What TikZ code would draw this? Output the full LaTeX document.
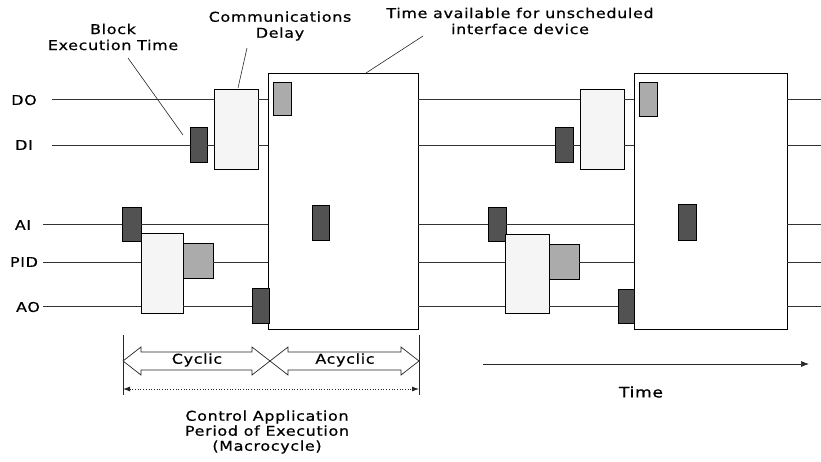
\documentclass[tikz,border=0pt]{standalone}
\usepackage{fontspec}
\setmainfont[FakeStretch=1.18,LetterSpace=5,FakeBold=0.6]{DejaVu Sans}
\usetikzlibrary{arrows.meta,calc}
\begin{document}
\begin{tikzpicture}[x=1pt,y=-1pt,
  sig/.style={draw=black!80,line width=0.7pt},
  lead/.style={draw=black!85,line width=0.6pt},
  blk/.style={draw=black,line width=0.8pt,anchor=north west,inner sep=0pt,outer sep=0pt},
  darkblk/.style={blk,fill=black!68},
  midblk/.style={blk,fill=black!33},
  lightblk/.style={blk,fill=black!4},
  bigbox/.style={blk,fill=white,line width=0.8pt},
  txt/.style={font=\fontsize{13.5}{16}\selectfont,align=center,inner sep=0pt},
  sigl/.style={font=\fontsize{13.5}{16}\selectfont,inner sep=0pt},
  barrow/.style={draw=black!85,line width=0.7pt,fill=white},
  tick/.style={draw=black!85,line width=0.7pt}]
\useasboundingbox (0,0) rectangle (821,461);

% signal names
\node[sigl] (nDO)  at (24,100) {DO};
\node[sigl] (nDI)  at (24,145) {DI};
\node[sigl] (nAI)  at (23,225) {AI};
\node[sigl] (nPID) at (24,262) {PID};
\node[sigl] (nAO)  at (28,307) {AO};

% line starts and ends
\coordinate (sDO)  at (52,99);
\coordinate (sDI)  at (52,145);
\coordinate (sAI)  at (43,224);
\coordinate (sPID) at (43,262);
\coordinate (sAO)  at (43,306);
\coordinate (eDO)  at (821,99);
\coordinate (eDI)  at (821,145);
\coordinate (eAI)  at (821,224);
\coordinate (ePID) at (821,262);
\coordinate (eAO)  at (821,306);

% macrocycle 1
\node[bigbox,minimum width=150pt,minimum height=256pt] (big1) at (268,73) {};
\node[midblk,minimum width=18pt,minimum height=33pt] (dos1) at (273,82) {};
\node[darkblk,minimum width=17pt,minimum height=35pt] (in1) at (312,205) {};
\node[lightblk,minimum width=44pt,minimum height=80pt] (com1) at (214,89) {};
\node[darkblk,minimum width=17pt,minimum height=35pt] (ex1) at (190,127) {};
\node[darkblk,minimum width=19pt,minimum height=34pt] (ai1) at (122,207) {};
\node[lightblk,minimum width=42pt,minimum height=80pt] (pid1) at (141,233) {};
\node[midblk,minimum width=30pt,minimum height=35pt] (pids1) at (183,243) {};
\node[darkblk,minimum width=17pt,minimum height=35pt] (ao1) at (252,288) {};

% macrocycle 2
\node[bigbox,minimum width=153pt,minimum height=256pt] (big2) at (634,73) {};
\node[midblk,minimum width=18pt,minimum height=34pt] (dos2) at (639,82) {};
\node[darkblk,minimum width=18pt,minimum height=36pt] (in2) at (678,204) {};
\node[lightblk,minimum width=44pt,minimum height=80pt] (com2) at (580,89) {};
\node[darkblk,minimum width=18pt,minimum height=35pt] (ex2) at (555,127) {};
\node[darkblk,minimum width=18pt,minimum height=34pt] (ai2) at (488,207) {};
\node[lightblk,minimum width=44pt,minimum height=79pt] (pid2) at (505,234) {};
\node[midblk,minimum width=30pt,minimum height=35pt] (pids2) at (549,244) {};
\node[darkblk,minimum width=16pt,minimum height=34pt] (ao2) at (618,289) {};

% DO
\draw[sig] (sDO) -- (sDO -| com1.west);
\draw[sig] (sDO -| com1.east) -- (sDO -| big1.west);
\draw[sig] (sDO -| big1.east) -- (sDO -| com2.west);
\draw[sig] (sDO -| com2.east) -- (sDO -| big2.west);
\draw[sig] (eDO -| big2.east) -- (eDO);
% DI
\draw[sig] (sDI) -- (sDI -| ex1.west);
\draw[sig] (sDI -| ex1.east) -- (sDI -| com1.west);
\draw[sig] (sDI -| com1.east) -- (sDI -| big1.west);
\draw[sig] (sDI -| big1.east) -- (sDI -| ex2.west);
\draw[sig] (sDI -| ex2.east) -- (sDI -| com2.west);
\draw[sig] (sDI -| com2.east) -- (sDI -| big2.west);
\draw[sig] (eDI -| big2.east) -- (eDI);
% AI
\draw[sig] (sAI) -- (sAI -| ai1.west);
\draw[sig] (sAI -| ai1.east) -- (sAI -| big1.west);
\draw[sig] (sAI -| big1.east) -- (sAI -| ai2.west);
\draw[sig] (sAI -| ai2.east) -- (sAI -| big2.west);
\draw[sig] (eAI -| big2.east) -- (eAI);
% PID
\draw[sig] (sPID) -- (sPID -| pid1.west);
\draw[sig] (sPID -| pids1.east) -- (sPID -| big1.west);
\draw[sig] (sPID -| big1.east) -- (sPID -| pid2.west);
\draw[sig] (sPID -| pids2.east) -- (sPID -| big2.west);
\draw[sig] (ePID -| big2.east) -- (ePID);
% AO
\draw[sig] (sAO) -- (sAO -| pid1.west);
\draw[sig] (sAO -| pid1.east) -- (sAO -| ao1.west);
\draw[sig] (sAO -| big1.east) -- (sAO -| pid2.west);
\draw[sig] (sAO -| pid2.east) -- (sAO -| ao2.west);
\draw[sig] (eAO -| big2.east) -- (eAO);

% callouts
\node[txt] (tBlk) at (113,37) {Block\\Execution Time};
\node[txt] (tCom) at (280,26) {Communications\\Delay};
\node[txt] (tAvl) at (520,21) {Time available for unscheduled\\interface device};
\coordinate (pBlk) at (128,58);
\coordinate (pCom) at (247,48);
\coordinate (pAvl) at (423,36);
\draw[lead] (pBlk) -- ($(ex1.north west)+(-7,8)$);
\draw[lead] (pCom) -- ($(com1.north)+(2,-1)$);
\draw[lead] (pAvl) -- ($(big1.north)+(23,0)$);

% macrocycle span
\coordinate (mL) at (123,335);
\coordinate (mR) at (419,335);
\coordinate (mLb) at (123,395);
\coordinate (mRb) at (419,395);
\draw[tick] (mL) -- (mLb);
\draw[tick] (mR) -- (mRb);
\coordinate (cM) at (270,361);
% cyclic / acyclic block arrows
\draw[barrow] (123,361) -- ++(18,-14) -- ++(0,5) -- (252,352) -- ++(0,-5) -- (cM)
   -- ++(-18,14) -- ++(0,-5) -- (141,370) -- ++(0,5) -- cycle;
\draw[barrow] (cM) -- ++(18,-14) -- ++(0,5) -- (401,352) -- ++(0,-5) -- (419,361)
   -- ++(-18,14) -- ++(0,-5) -- (288,370) -- ++(0,5) -- cycle;
\node[txt] (tCyc) at (197,360) {Cyclic};
\node[txt] (tAcy) at (345,360) {Acyclic};
\draw[tick,dotted,line width=0.8pt,{Latex[length=7pt,width=5pt]}-{Latex[length=7pt,width=5pt]}]
   (mLb |- 0,389) -- (mRb |- 0,389);
\node[txt,font=\fontsize{13.5}{15}\selectfont] (tCtl) at (267,432) {Control Application\\Period of Execution\\(Macrocycle)};

% time axis
\coordinate (t0) at (483,364);
\coordinate (t1) at (809,364);
\draw[tick,-{Latex[length=8pt,width=6pt]}] (t0) -- (t1);
\node[txt,font=\fontsize{14.5}{16}\selectfont] (tTime) at (641,392) {Time};
\end{tikzpicture}
\end{document}
